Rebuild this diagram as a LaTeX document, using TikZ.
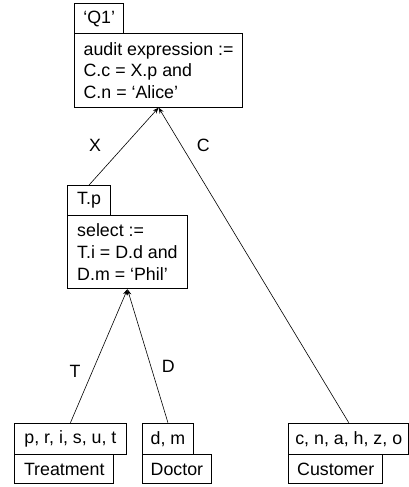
\documentclass[tikz,border=0pt]{standalone}
\usepackage{fontspec}
\setmainfont{Liberation Sans}
\usetikzlibrary{arrows.meta}
\begin{document}
\begin{tikzpicture}[x=1pt,y=-1pt,
  txt/.style={font=\fontsize{17.8}{21.7}\selectfont},
  box/.style={txt,draw,line width=0.9pt,anchor=north west,inner sep=0pt,align=left},
  lbl/.style={txt,inner sep=0pt},
  link/.style={line width=0.6pt,-{Stealth[length=6pt,width=4.5pt]}}]
\useasboundingbox (0,0) rectangle (409,487);

% query block Q1
\node[box,minimum width=49pt,minimum height=30pt] (q1) at (74.3,3.3) {‘Q1’};
\node[box,minimum width=167.7pt,minimum height=73.4pt] (audit) at (74.3,33.3)
  {audit expression :=\\C.c = X.p and\\C.n = ‘Alice’};

% sub-query block T.p
\node[box,minimum width=43.3pt,minimum height=30pt] (tp) at (67,185) {T.p};
\node[box,minimum width=120pt,minimum height=73.3pt] (sel) at (67,215)
  {select :=\\T.i = D.d and\\D.m = ‘Phil’};

% base tables
\node[box,minimum width=111.4pt,minimum height=31.3pt] (tattr) at (14.3,422.7) {p, r, i, s, u, t};
\node[box,minimum width=99pt,minimum height=29.3pt] (treat) at (14.3,454) {Treatment};
\node[box,minimum width=51.6pt,minimum height=31.3pt] (dattr) at (141.7,422.7) {d, m};
\node[box,minimum width=69.6pt,minimum height=29.3pt] (doc) at (141.7,454) {Doctor};
\node[box,minimum width=120pt,minimum height=31.3pt] (cattr) at (288.3,422.7) {c, n, a, h, z, o};
\node[box,minimum width=94pt,minimum height=29.3pt] (cust) at (288.3,454) {Customer};

% connectors
\draw[link] (tp.north) -- (audit.south);
\draw[link] (cattr.north) -- (audit.south);
\draw[link] (tattr.north) -- (sel.south);
\draw[link] (dattr.north) -- (sel.south);

% edge labels
\node[lbl] (lx) at (95,145) {X};
\node[lbl] (lc) at (203.3,145) {C};
\node[lbl] (lt) at (75,371.7) {T};
\node[lbl] (ld) at (168.3,366) {D};
\end{tikzpicture}
\end{document}
